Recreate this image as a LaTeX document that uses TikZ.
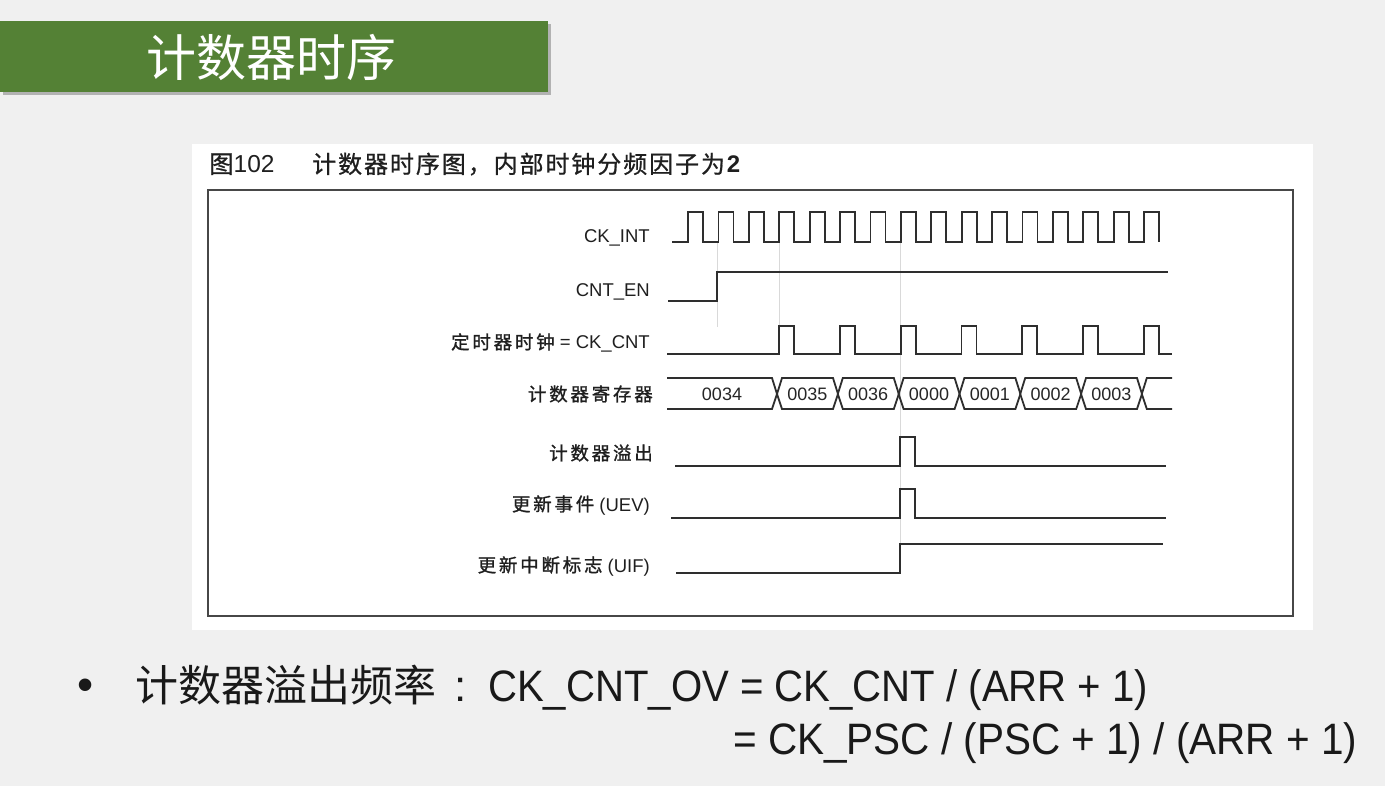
\documentclass[tikz,border=0pt]{standalone}
\usepackage{fontspec}
\usepackage{graphicx}
\setmainfont{Liberation Sans}
\newfontfamily\cjk{Noto Sans CJK SC}
\newfontfamily\cjklab[LetterSpace=15,FakeBold=1.2]{Noto Sans CJK SC}
\newfontfamily\cjkcap[LetterSpace=8,FakeBold=0.8]{Noto Sans CJK SC}
\definecolor{bgcol}{RGB}{240,240,240}
\definecolor{titlegreen}{RGB}{84,129,53}
\begin{document}
\begin{tikzpicture}[x=1pt,y=-1pt,
  wave/.style={line width=1.8pt, draw=black!82, line join=miter},
  guide/.style={line width=0.8pt, draw=black!15},
  lab/.style={anchor=base east, inner sep=0pt, text=black!88, font=\fontsize{18.5}{20}\selectfont},
  val/.style={inner sep=0pt, text=black!85, font=\fontsize{18}{20}\selectfont},
  big/.style={inner sep=0pt, text=black!90},
]
\useasboundingbox (0,0) rectangle (1385,786);
\fill[bgcol] (0,0) rectangle (1385,786);
% title bar
\fill[black!30] (3,24) rectangle (551,95);
\fill[titlegreen] (0,21) rectangle (548,92);
\node[text=white, inner sep=0pt, font={\fontsize{50}{56}\cjk}] (title) at (271,57) {计数器时序};
% panel
\fill[white] (192,144) rectangle (1313,630);
\draw[line width=2pt, draw=black!72] (208,190) rectangle (1293,616);
\node[anchor=base west, inner sep=0pt, text=black!88, font={\fontsize{24.5}{28}\selectfont}] (fig) at (209,173) {{\cjkcap 图}102};
\node[anchor=base west, inner sep=0pt, text=black!88, font={\fontsize{24}{28}\selectfont}] (cap) at (312,173) {{\cjkcap 计数器时序图，内部时钟分频因子为}\textbf{2}};
% labels
\node[lab] (l1) at (650,243) {CK\_INT};
\node[lab] (l2) at (650,297) {CNT\_EN};
\node[lab] (l3) at (650,349) {{\cjklab 定时器时钟} = CK\_CNT};
\node[lab] (l4) at (653,401) {\cjklab 计数器寄存器};
\node[lab] (l5) at (653,460) {\cjklab 计数器溢出};
\node[lab] (l6) at (650,511) {{\cjklab 更新事件} (UEV)};
\node[lab] (l7) at (650,572) {{\cjklab 更新中断标志} (UIF)};
% guide lines
\draw[guide] (717,242) -- (717,327);
\draw[guide] (779,242) -- (779,354);
\draw[guide] (900,242) -- (900,573);
% CK_INT
\draw[wave] (672,242) foreach \i in {0,...,15} { -- ({688+30.4*\i},242) -- ({688+30.4*\i},212) -- ({703+30.4*\i},212) -- ({703+30.4*\i},242) };
% CNT_EN
\draw[wave] (668,301) -- (717,301) -- (717,272) -- (1168,272);
% CK_CNT
\draw[wave] (667,354) foreach \i in {0,...,6} { -- ({779+60.8*\i},354) -- ({779+60.8*\i},326) -- ({794+60.8*\i},326) -- ({794+60.8*\i},354) } -- (1172,354);
% counter register bus
\draw[wave] (667,378) -- (772,378) -- (777,394) -- (772,409) -- (667,409);
\foreach \k in {0,...,5} {
  \draw[wave] ({777+60.8*\k},394) -- ({782+60.8*\k},378) -- ({833+60.8*\k},378) -- ({838+60.8*\k},394) -- ({833+60.8*\k},409) -- ({782+60.8*\k},409) -- cycle;
}
\draw[wave] (1172,378) -- (1146.8,378) -- (1141.8,394) -- (1146.8,409) -- (1172,409);
\node[val] (v0) at (722,394) {0034};
\foreach \k/\t in {0/0035,1/0036,2/0000,3/0001,4/0002,5/0003} {
  \node[val] (v\t) at ({807.4+60.8*\k},394) {\t};
}
% overflow
\draw[wave] (675,466) -- (900,466) -- (900,437) -- (915,437) -- (915,466) -- (1166,466);
% UEV
\draw[wave] (671,518) -- (900,518) -- (900,489) -- (915,489) -- (915,518) -- (1166,518);
% UIF
\draw[wave] (676,573) -- (900,573) -- (900,544) -- (1163,544);
% bottom text
\node[big, anchor=base, font={\fontsize{46}{50}\selectfont}] (bul) at (86,700) {•};
\node[big, anchor=base west, font={\fontsize{43}{50}\cjk}] (t1) at (135,701) {计数器溢出频率};
\node[big, anchor=base, font={\fontsize{44}{50}\selectfont}] (colon) at (461,701) {:};
\node[big, anchor=base west, font={\fontsize{44}{50}\selectfont}] (t2) at (488,701) {\resizebox{660pt}{\height}{CK\_CNT\_OV = CK\_CNT / (ARR + 1)}};
\node[big, anchor=base west, font={\fontsize{44}{50}\selectfont}] (t3) at (733,754) {\resizebox{624pt}{\height}{= CK\_PSC / (PSC + 1) / (ARR + 1)}};
\end{tikzpicture}
\end{document}
